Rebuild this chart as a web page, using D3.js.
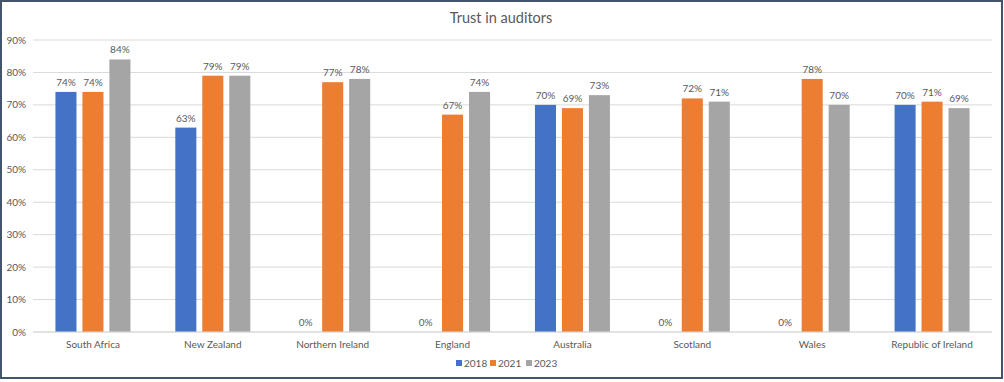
<!DOCTYPE html>
<html>
<head>
<meta charset="utf-8">
<script src="https://cdn.jsdelivr.net/npm/d3@7.9.0/dist/d3.min.js"></script>
<style>
  body { margin: 0; background: #fff; }
  svg { display: block; font-family: Lato, 'Open Sans', sans-serif; }
</style>
</head>
<body>
<svg id="chart" width="1004" height="382"></svg>
<script>
// Data
const countries = ['South Africa', 'New Zealand', 'Northern Ireland', 'England', 'Australia', 'Scotland', 'Wales', 'Republic of Ireland'];
const years = ['2018', '2021', '2023'];
const v2018 = [74, 63, 0, 0, 70, 0, 0, 70];
const v2021 = [74, 79, 77, 67, 69, 72, 78, 71];
const v2023 = [84, 79, 78, 74, 73, 71, 70, 69];
const yTicks = [0, 10, 20, 30, 40, 50, 60, 70, 80, 90];
const colors = ['#4472C4', '#ED7D31', '#A5A5A5'];

const seriesValues = [v2018, v2021, v2023];

const svg = d3.select('#chart');

// Frame
svg.append('rect')
  .attr('x', 1).attr('y', 1)
  .attr('width', 1001).attr('height', 377)
  .attr('fill', '#fff')
  .attr('stroke', '#44546A')
  .attr('stroke-width', 2);

// Title
svg.append('text')
  .attr('x', 501).attr('y', 23)
  .attr('text-anchor', 'middle')
  .attr('font-size', 14.5)
  .attr('fill', '#595959')
  .text('Trust in auditors');

const groupW = 75;
const x0 = d3.scaleBand().domain(countries).range([33, 992]);
const x1 = d3.scaleBand().domain(years).range([0, groupW]).paddingInner(0.22);
const y = d3.scaleLinear().domain([0, 90]).range([332, 40]);

// Gridlines
svg.append('g')
  .selectAll('line')
  .data(yTicks)
  .join('line')
  .attr('x1', 33).attr('x2', 992)
  .attr('y1', d => y(d)).attr('y2', d => y(d))
  .attr('stroke', '#D9D9D9')
  .attr('stroke-width', 1);

// Y axis labels
svg.append('g')
  .selectAll('text')
  .data(yTicks)
  .join('text')
  .attr('x', 26)
  .attr('y', d => y(d) + 3.5)
  .attr('text-anchor', 'end')
  .attr('font-size', 10)
  .attr('fill', '#595959')
  .text(d => d + '%');

// Bars
const groups = svg.append('g')
  .selectAll('g')
  .data(countries)
  .join('g')
  .attr('transform', d => `translate(${x0(d) + (x0.bandwidth() - groupW) / 2},0)`);

groups.each(function (c, ci) {
  const g = d3.select(this);
  years.forEach((yr, si) => {
    const val = seriesValues[si][ci];
    if (val > 0) {
      g.append('rect')
        .attr('x', x1(yr))
        .attr('y', y(val))
        .attr('width', x1.bandwidth())
        .attr('height', y(0) - y(val))
        .attr('fill', colors[si]);
    }
    g.append('text')
      .attr('x', x1(yr) + x1.bandwidth() / 2)
      .attr('y', y(val) - 6)
      .attr('text-anchor', 'middle')
      .attr('font-size', 10)
      .attr('fill', '#595959')
      .text(val + '%');
  });
});

// Baseline
svg.append('line')
  .attr('x1', 33).attr('x2', 992)
  .attr('y1', y(0)).attr('y2', y(0))
  .attr('stroke', '#D9D9D9');

// Category labels
svg.append('g')
  .selectAll('text')
  .data(countries)
  .join('text')
  .attr('x', d => x0(d) + x0.bandwidth() / 2)
  .attr('y', 348)
  .attr('text-anchor', 'middle')
  .attr('font-size', 10)
  .attr('fill', '#595959')
  .text(d => d);

// Legend
const legendX = [456, 490, 526];
const legend = svg.append('g')
  .selectAll('g')
  .data(years)
  .join('g')
  .attr('transform', (d, i) => `translate(${legendX[i]},365)`);

legend.append('rect')
  .attr('x', 0).attr('y', -5)
  .attr('width', 6).attr('height', 6)
  .attr('fill', (d, i) => colors[i]);

legend.append('text')
  .attr('x', 8).attr('y', 1.5)
  .attr('font-size', 10)
  .attr('fill', '#595959')
  .text(d => d);
</script>
</body>
</html>
